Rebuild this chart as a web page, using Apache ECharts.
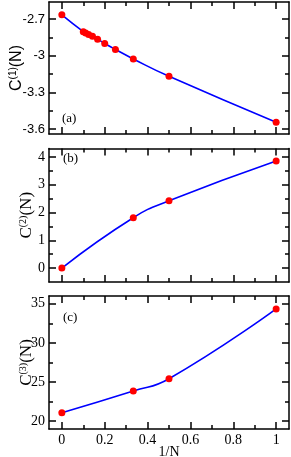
<!DOCTYPE html>
<html><head><meta charset="utf-8">
<script src="https://cdn.jsdelivr.net/npm/echarts@6/dist/echarts.min.js"></script>
<style>html,body{margin:0;padding:0;background:#fff}#c{width:291px;height:457px}</style>
</head><body><div id="c"></div>
<script>
// ---- data ----
const xA = [0, 1/10, 1/9, 1/8, 1/7, 1/6, 1/5, 1/4, 1/3, 1/2, 1];
const yA = [-2.665, -2.803, -2.813, -2.825, -2.840, -2.864, -2.899, -2.948, -3.026, -3.168, -3.543];
const xB = [0, 1/3, 1/2, 1];
const yB = [0, 1.81, 2.42, 3.85];
const xC = [0, 1/3, 1/2, 1];
const yC = [21.08, 23.85, 25.42, 34.35];

const X_MAJOR = [0, 0.2, 0.4, 0.6, 0.8, 1];
const X_MINOR = [0.1, 0.3, 0.5, 0.7, 0.9];
const X_LABELS = ['0', '0.2', '0.4', '0.6', '0.8', '1'];

const YA_MAJOR = [-3.6, -3.3, -3, -2.7];
const YA_MINOR = [-3.45, -3.15, -2.85];
const YA_LABELS = ['-3.6', '-3.3', '-3', '-2.7'];
const YB_MAJOR = [0, 1, 2, 3, 4];
const YB_MINOR = [0.5, 1.5, 2.5, 3.5];
const YB_LABELS = ['0', '1', '2', '3', '4'];
const YC_MAJOR = [20, 25, 30, 35];
const YC_MINOR = [22.5, 27.5, 32.5];
const YC_LABELS = ['20', '25', '30', '35'];

const panels = [
  {x: xA, y: yA, ymin: -3.64, ymax: -2.56, major: YA_MAJOR, minor: YA_MINOR, labels: YA_LABELS, sup: '(1)', font: 'Liberation Sans', lsize: 13, nsize: 16, gap: 23},
  {x: xB, y: yB, ymin: -0.5, ymax: 4.3, major: YB_MAJOR, minor: YB_MINOR, labels: YB_LABELS, sup: '(2)', font: 'Liberation Serif', lsize: 14, nsize: 17, gap: 13},
  {x: xC, y: yC, ymin: 19, ymax: 36, major: YC_MAJOR, minor: YC_MINOR, labels: YC_LABELS, sup: '(3)', font: 'Liberation Serif', lsize: 14, nsize: 17, gap: 13}
];

const grids = [
  {left: 49, right: 2, top: 2, height: 132, outerBoundsMode: 'none', containLabel: false},
  {left: 49, right: 2, top: 148.5, height: 133.5, outerBoundsMode: 'none', containLabel: false},
  {left: 49, right: 2, top: 296, height: 133, outerBoundsMode: 'none', containLabel: false}
];

const XMIN = -0.06, XMAX = 1.06;
const MAJ = 7, MIN = 4;
const LW = 1.5;

const xAxes = [], yAxes = [], series = [], graphics = [];
panels.forEach((p, gi) => {
  const isLast = gi === panels.length - 1;
  const mkX = (pos, vals, len, showLine, label) => {
    xAxes.push({
      type: 'value', gridIndex: gi, position: pos, min: XMIN, max: XMAX,
      axisLine: {show: showLine, onZero: false, lineStyle: {color: '#000', width: LW}},
      axisTick: {show: true, inside: true, length: len, customValues: vals, lineStyle: {color: '#000', width: LW}},
      axisLabel: label ? {show: true, customValues: X_MAJOR, margin: 4, color: '#000', fontFamily: 'Liberation Serif', fontSize: 14,
        formatter: v => X_LABELS[X_MAJOR.findIndex(t => Math.abs(t - v) < 1e-9)] || ''} : {show: false},
      splitLine: {show: false},
      name: label ? '1/N' : '', nameLocation: 'middle', nameGap: 16, nameMoveOverlap: false,
      nameTextStyle: {color: '#000', fontFamily: 'Liberation Serif', fontSize: 14, verticalAlign: 'top'}
    });
  };
  const xStart = xAxes.length;
  mkX('bottom', X_MAJOR, MAJ, true, isLast);
  mkX('bottom', X_MINOR, MIN, false, false);
  mkX('top', X_MAJOR, MAJ, true, false);
  mkX('top', X_MINOR, MIN, false, false);

  const mkY = (pos, vals, len, showLine, label) => {
    yAxes.push({
      type: 'value', gridIndex: gi, position: pos, min: p.ymin, max: p.ymax,
      axisLine: {show: showLine, onZero: false, lineStyle: {color: '#000', width: LW}},
      axisTick: {show: true, inside: true, length: len, customValues: vals, lineStyle: {color: '#000', width: LW}},
      axisLabel: label ? {show: true, customValues: p.major, margin: 4, color: '#000', fontFamily: p.font, fontSize: p.lsize,
        formatter: v => p.labels[p.major.findIndex(t => Math.abs(t - v) < 1e-9)] || ''} : {show: false},
      splitLine: {show: false},
      name: label ? '{a|C}{s|' + p.sup + '}{a|(N)}' : '',
      nameLocation: 'middle', nameGap: p.gap, nameRotate: 90, nameMoveOverlap: false,
      nameTextStyle: {color: '#000', rich: {
        a: {fontFamily: p.font, fontSize: p.nsize, color: '#000'},
        s: {fontFamily: p.font, fontSize: 10, color: '#000', verticalAlign: 'top', padding: [0, 0, 8, 0]}
      }}
    });
  };
  const yStart = yAxes.length;
  mkY('left', p.major, MAJ, true, true);
  mkY('left', p.minor, MIN, false, false);
  mkY('right', p.major, MAJ, true, false);
  mkY('right', p.minor, MIN, false, false);

  series.push({
    type: 'line', xAxisIndex: xStart, yAxisIndex: yStart,
    data: p.x.map((v, i) => [v, p.y[i]]),
    smooth: 0.5, symbol: 'circle', symbolSize: 7, showSymbol: true,
    lineStyle: {color: '#0000ff', width: 1.6},
    itemStyle: {color: '#ff0000', borderWidth: 0},
    z: 3, animation: false
  });
});

graphics.push(
  {type: 'text', left: 62, top: 112, style: {text: '(a)', font: '13px "Liberation Serif"', fill: '#000'}},
  {type: 'text', left: 63, top: 152, style: {text: '(b)', font: '13px "Liberation Serif"', fill: '#000'}},
  {type: 'text', left: 63, top: 311, style: {text: '(c)', font: '13px "Liberation Serif"', fill: '#000'}}
);

const chart = echarts.init(document.getElementById('c'), null, {renderer: 'canvas'});
chart.setOption({
  animation: false,
  backgroundColor: '#fff',
  grid: grids,
  xAxis: xAxes,
  yAxis: yAxes,
  series: series,
  graphic: graphics
});
</script></body></html>
